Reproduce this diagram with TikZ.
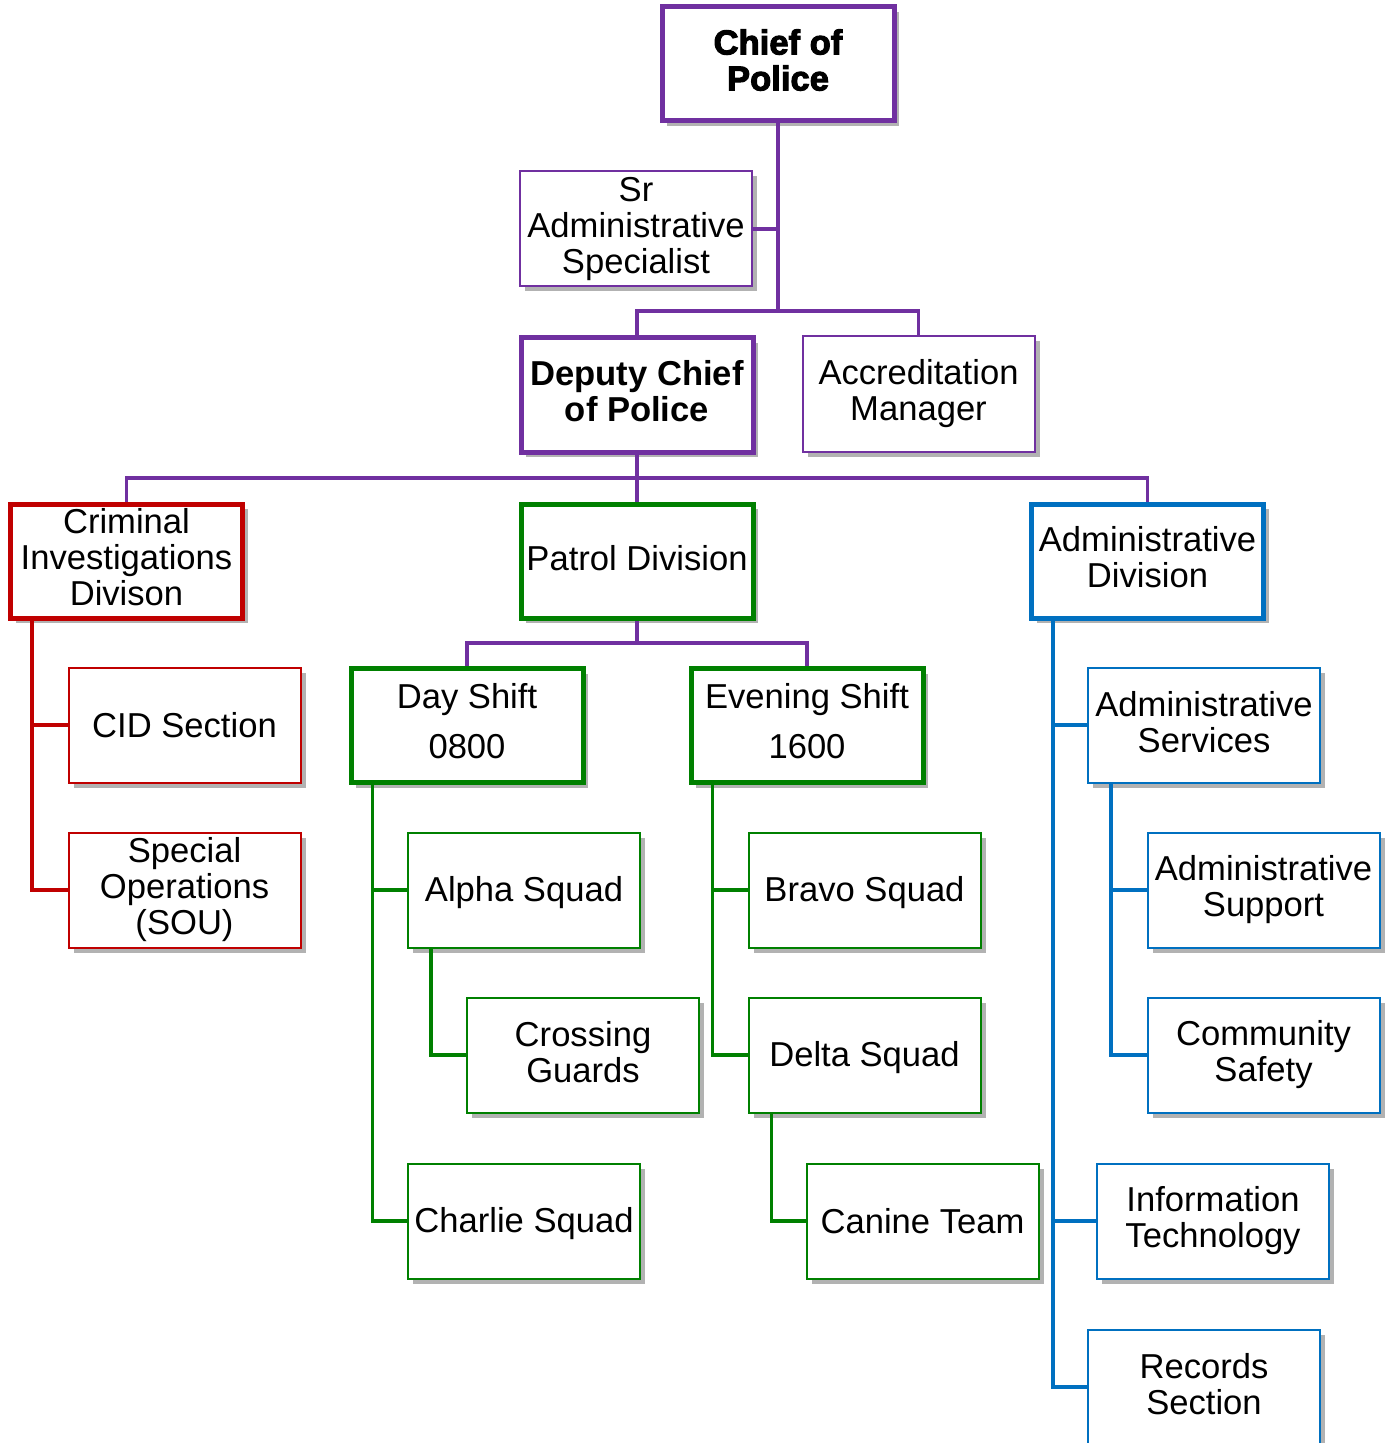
\documentclass[tikz,border=0pt]{standalone}
\usepackage{fontspec}
\setmainfont{Liberation Sans}
\newfontfamily\heavyfont[FakeBold=3]{Liberation Sans Bold}
\usetikzlibrary{shadows}
\definecolor{pur}{HTML}{7030A0}
\definecolor{cred}{HTML}{C00000}
\definecolor{cgreen}{HTML}{008000}
\definecolor{cblue}{HTML}{0070C0}
\newcommand\thinstrut{\rule[-2.8pt]{0pt}{18pt}}
\newcommand\thickstrut{\rule[-4.1pt]{0pt}{18pt}}
\tikzset{
  box/.style={draw, fill=white, align=center, inner sep=0pt,
    font=\fontsize{17.3}{18}\selectfont,
    drop shadow={shadow xshift=2.5pt, shadow yshift=-2.5pt, fill=black, opacity=0.3}},
  thickbox/.style={box, line width=2.5pt, minimum width=116pt, minimum height=57pt,
    execute at begin node=\thickstrut, execute at end node=\thickstrut},
  thinbox/.style={box, line width=1pt, minimum width=116pt, minimum height=57.5pt,
    execute at begin node=\thinstrut, execute at end node=\thinstrut},
  conn/.style={line width=1.6pt},
}
\begin{document}
\begin{tikzpicture}[x=0.5pt, y=-0.5pt]
\clip (0,0) rectangle (1390,1443);
\fill[white] (0,0) rectangle (1390,1443);
% nodes
\node[thickbox, draw=pur, font=\heavyfont\fontsize{17.3}{18}\selectfont] (chief) at (778,64) {Chief of\\Police};
\node[thinbox, draw=pur] (sr) at (636,229) {Sr\\Administrative\\Specialist};
\node[thickbox, draw=pur, font=\bfseries\fontsize{17.3}{18}\selectfont] (deputy) at (637,395) {Deputy Chief\\of Police};
\node[thinbox, draw=pur] (accr) at (918.5,394) {Accreditation\\Manager};
\node[thickbox, draw=cred] (cid) at (126.5,561) {Criminal\\Investigations\\Divison};
\node[thickbox, draw=cgreen] (patrol) at (637,561) {Patrol Division};
\node[thickbox, draw=cblue] (admdiv) at (1147.5,561) {Administrative\\Division};
\node[thinbox, draw=cred] (cidsec) at (184.5,725) {CID Section};
\node[thinbox, draw=cred] (sou) at (184.5,890) {Special\\Operations\\(SOU)};
\node[thickbox, draw=cgreen, font=\fontsize{17.3}{25}\selectfont] (day) at (467,725.5) {Day Shift\\0800};
\node[thickbox, draw=cgreen, font=\fontsize{17.3}{25}\selectfont] (eve) at (807,725.5) {Evening Shift\\1600};
\node[thinbox, draw=cgreen] (alpha) at (524,890) {Alpha Squad};
\node[thinbox, draw=cgreen] (crossing) at (583,1055) {Crossing\\Guards};
\node[thinbox, draw=cgreen] (charlie) at (524,1221) {Charlie Squad};
\node[thinbox, draw=cgreen] (bravo) at (864.5,890) {Bravo Squad};
\node[thinbox, draw=cgreen] (delta) at (864.5,1055) {Delta Squad};
\node[thinbox, draw=cgreen] (canine) at (922.5,1221) {Canine Team};
\node[thinbox, draw=cblue] (admsvc) at (1204,725) {Administrative\\Services};
\node[thinbox, draw=cblue] (admsup) at (1263.5,890) {Administrative\\Support};
\node[thinbox, draw=cblue] (community) at (1263.5,1055) {Community\\Safety};
\node[thinbox, draw=cblue] (it) at (1213,1221) {Information\\Technology};
\node[thinbox, draw=cblue] (records) at (1204,1387) {Records\\Section};
% junctions
\coordinate (j1) at (778,311);
\coordinate (j2) at (637,478);
\coordinate (j3) at (637,643);
% purple connectors
\begin{scope}[conn, draw=pur]
\draw (chief.south) -- (j1);
\draw (sr.east) -- (sr.east -| j1);
\draw (deputy.north) |- (j1) -| (accr.north);
\draw (deputy.south) -- (j2);
\draw (cid.north) |- (j2) -| (admdiv.north);
\draw (patrol.north) -- (j2);
\draw (patrol.south) -- (j3);
\draw (day.north) |- (j3) -| (eve.north);
\end{scope}
% red
\begin{scope}[conn, draw=cred]
\draw ([xshift=12pt]cid.south west) |- (sou.west);
\draw ([xshift=12pt]cid.south west |- cidsec.west) -- (cidsec.west);
\end{scope}
% green
\begin{scope}[conn, draw=cgreen]
\draw ([xshift=12pt]day.south west) |- (charlie.west);
\draw ([xshift=12pt]day.south west |- alpha.west) -- (alpha.west);
\draw ([xshift=12pt]alpha.south west) |- (crossing.west);
\draw ([xshift=12pt]eve.south west) |- (delta.west);
\draw ([xshift=12pt]eve.south west |- bravo.west) -- (bravo.west);
\draw ([xshift=12pt]delta.south west) |- (canine.west);
\end{scope}
% blue
\begin{scope}[conn, draw=cblue]
\draw ([xshift=12pt]admdiv.south west) |- (records.west);
\draw ([xshift=12pt]admdiv.south west |- admsvc.west) -- (admsvc.west);
\draw ([xshift=12pt]admdiv.south west |- it.west) -- (it.west);
\draw ([xshift=12pt]admsvc.south west) |- (community.west);
\draw ([xshift=12pt]admsvc.south west |- admsup.west) -- (admsup.west);
\end{scope}
\end{tikzpicture}
\end{document}
